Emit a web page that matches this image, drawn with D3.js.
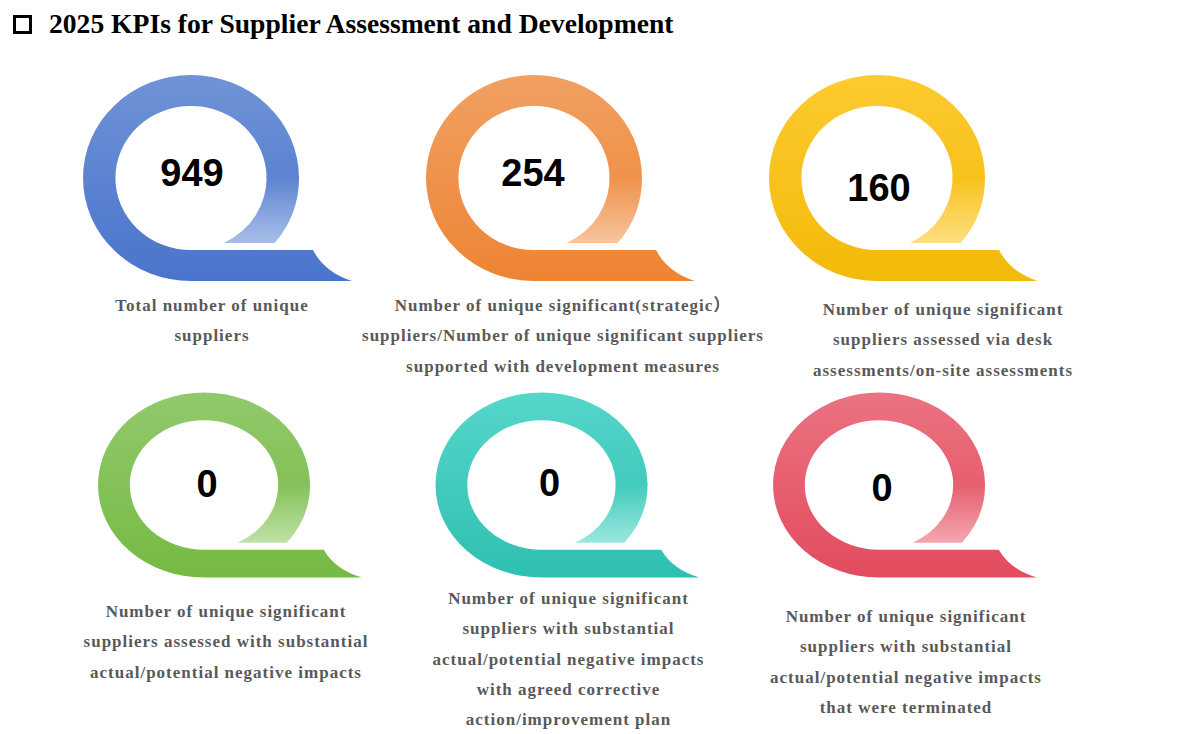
<!DOCTYPE html>
<html>
<head>
<meta charset="utf-8">
<script src="https://cdn.jsdelivr.net/npm/d3@7"></script>
<style>
  body { margin: 0; background: #fff; }
  svg { display: block; }
</style>
</head>
<body>
<div id="chart"></div>
<script>
  var width = 1187;
  var height = 734;

  // KPI values and their captions
  var values = [949, 254, 160, 0, 0, 0];
  var labels = [
    ["Total number of unique", "suppliers"],
    ["Number of unique significant(strategic\uff09", "suppliers/Number of unique significant suppliers", "supported with development measures"],
    ["Number of unique significant", "suppliers assessed via desk", "assessments/on-site assessments"],
    ["Number of unique significant", "suppliers assessed with substantial", "actual/potential negative impacts"],
    ["Number of unique significant", "suppliers with substantial", "actual/potential negative impacts", "with agreed corrective", "action/improvement plan"],
    ["Number of unique significant", "suppliers with substantial", "actual/potential negative impacts", "that were terminated"]
  ];
  var topColors = ["#6f93d6", "#f0a062", "#fdca30", "#92c96c", "#55d6c9", "#ea7381"];
  var bottomColors = ["#4a74cc", "#ee8433", "#f2ba08", "#75ba43", "#2fc0b1", "#e34b5f"];
  var lightColors = ["#a9bee8", "#f7c49e", "#fedf82", "#bfe1a6", "#9be7df", "#f2a7b0"];

  // grid layout: two rows of three
  var rows = [
    { cy: 178, x0: 191, x1: 877, rx: 108, ry: 103 },
    { cy: 485, x0: 204, x1: 879, rx: 106, ry: 92.5 }
  ];
  var numberNudge = [[1, -5], [-1, -5], [2, 10], [3, -1], [8, -2], [3, 3]];
  var labelNudge = [[21, 127], [29, 127], [66, 131], [22, 126], [27, 113], [27, 131]];

  var serif = "'Times New Roman', 'Liberation Serif', 'Noto Sans CJK SC', serif";

  var svg = d3.select("#chart").append("svg")
      .attr("width", width)
      .attr("height", height);
  var defs = svg.append("defs");

  // title
  svg.append("rect")
      .attr("x", 14.5).attr("y", 16.5)
      .attr("width", 16).attr("height", 16)
      .attr("fill", "none")
      .attr("stroke", "#000")
      .attr("stroke-width", 3);
  svg.append("text")
      .attr("x", 49).attr("y", 33)
      .style("font-family", serif)
      .style("font-weight", "bold")
      .style("font-size", "27.6px")
      .attr("fill", "#000")
      .text("2025 KPIs for Supplier Assessment and Development");

  var cells = values.map(function(v, i) {
    var r = rows[Math.floor(i / 3)];
    var x = d3.scalePoint().domain([0, 1, 2]).range([r.x0, r.x1]);
    return { i: i, value: v, cx: x(i % 3), cy: r.cy, Rx: r.rx, Ry: r.ry };
  });

  function mainPath(d) {
    var rx = d.Rx * 0.7, ry = d.Ry * 0.7;
    var cx = d.cx, cy = d.cy;
    var tailIn = cx + 1.13 * d.Rx, tailEnd = cx + 1.49 * d.Rx;
    return "M" + (cx + d.Rx) + "," + cy +
      "A" + d.Rx + "," + d.Ry + " 0 1 0 " + cx + "," + (cy + d.Ry) +
      "L" + tailEnd + "," + (cy + d.Ry) +
      "Q" + (tailIn + 0.3 * (tailEnd - tailIn)) + "," + (cy + ry + 0.72 * (d.Ry - ry)) + " " + tailIn + "," + (cy + ry) +
      "L" + cx + "," + (cy + ry) +
      "A" + rx + "," + ry + " 0 1 1 " + (cx + rx) + "," + cy + "Z";
  }

  function sidePath(d) {
    var rx = d.Rx * 0.7, ry = d.Ry * 0.7;
    var cx = d.cx, cy = d.cy;
    var cut = ry - 7;
    var up = 2;
    var xo = d.Rx * Math.sqrt(1 - Math.pow(cut / d.Ry, 2));
    var xi = rx * Math.sqrt(1 - Math.pow(cut / ry, 2));
    var xo0 = d.Rx * Math.sqrt(1 - Math.pow(up / d.Ry, 2));
    var xi0 = rx * Math.sqrt(1 - Math.pow(up / ry, 2));
    return "M" + (cx + xo0) + "," + (cy - up) +
      "A" + d.Rx + "," + d.Ry + " 0 0 1 " + (cx + xo) + "," + (cy + cut) +
      "L" + (cx + xi) + "," + (cy + cut) +
      "A" + rx + "," + ry + " 0 0 0 " + (cx + xi0) + "," + (cy - up) + "Z";
  }

  cells.forEach(function(d) {
    var ry = d.Ry * 0.7;
    var gA = defs.append("linearGradient")
        .attr("id", "gA" + d.i)
        .attr("gradientUnits", "userSpaceOnUse")
        .attr("x1", 0).attr("x2", 0)
        .attr("y1", d.cy - d.Ry).attr("y2", d.cy + d.Ry);
    gA.append("stop").attr("offset", 0).attr("stop-color", topColors[d.i]);
    gA.append("stop").attr("offset", 1).attr("stop-color", bottomColors[d.i]);

    // lighter right-hand drop, starting from the ring colour at mid height
    var gB = defs.append("linearGradient")
        .attr("id", "gB" + d.i)
        .attr("gradientUnits", "userSpaceOnUse")
        .attr("x1", 0).attr("x2", 0)
        .attr("y1", d.cy).attr("y2", d.cy + ry - 7);
    gB.append("stop").attr("offset", 0).attr("stop-color", d3.interpolateRgb(topColors[d.i], bottomColors[d.i])(0.5));
    gB.append("stop").attr("offset", 1).attr("stop-color", lightColors[d.i]);
  });

  var g = svg.selectAll("g.kpi")
      .data(cells)
      .enter().append("g")
      .attr("class", "kpi");

  g.append("path")
      .attr("d", sidePath)
      .attr("fill", function(d) { return "url(#gB" + d.i + ")"; });

  g.append("path")
      .attr("d", mainPath)
      .attr("fill", function(d) { return "url(#gA" + d.i + ")"; });

  g.append("text")
      .attr("x", function(d) { return d.cx + numberNudge[d.i][0]; })
      .attr("y", function(d) { return d.cy + numberNudge[d.i][1]; })
      .attr("text-anchor", "middle")
      .attr("dominant-baseline", "central")
      .style("font-family", "Arial, 'Liberation Sans', sans-serif")
      .style("font-weight", "bold")
      .style("font-size", "38px")
      .attr("fill", "#000")
      .text(function(d) { return d.value; });

  g.append("text")
      .attr("text-anchor", "middle")
      .style("font-family", serif)
      .style("font-weight", "bold")
      .style("font-size", "17px")
      .style("letter-spacing", "1px")
      .attr("fill", "#595959")
      .selectAll("tspan")
      .data(function(d) {
        return labels[d.i].map(function(t, k) {
          return { text: t, x: d.cx + labelNudge[d.i][0], y: d.cy + labelNudge[d.i][1] + 6 + k * 30.3 };
        });
      })
      .enter().append("tspan")
      .attr("x", function(t) { return t.x; })
      .attr("y", function(t) { return t.y; })
      .text(function(t) { return t.text; });
</script>
</body>
</html>
